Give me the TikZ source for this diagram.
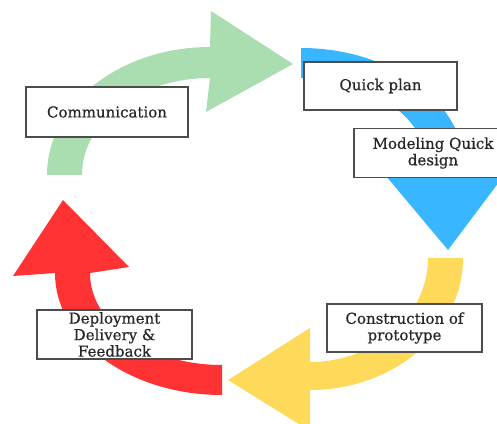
\documentclass[tikz,border=0pt]{standalone}
\usepackage{fontspec}
\setmainfont{DejaVu Serif}
\newfontfamily\phasefont{DejaVu Serif}[FakeBold=0.5]
\usetikzlibrary{shadows}
\definecolor{greenarc}{RGB}{170,222,176}
\definecolor{bluearc}{RGB}{56,182,255}
\definecolor{yellowarc}{RGB}{255,217,90}
\definecolor{redarc}{RGB}{255,51,51}
\tikzstyle{phase} = [rectangle, minimum width=155pt, minimum height=48pt, text centered, align=center, draw=black!70, line width=1.3pt, fill=white, text=black!85, drop shadow={opacity=0.4, shadow xshift=1pt, shadow yshift=-1pt}, font=\phasefont\fontsize{15}{16.5}\selectfont]

\begin{document}
\begin{tikzpicture}[x=1pt, y=1pt]
            \clip (0,0) rectangle (497,423);
            % the four bent arrows of the cycle
            \fill[greenarc] (47,248) arc[start angle=180, end angle=90, x radius=163, y radius=128] -- (211,412) -- (293,359) -- (206,311) -- (210,345) arc[start angle=90, end angle=180, x radius=128, y radius=97] -- cycle;
            \fill[bluearc] (301,375) arc[start angle=90, end angle=0, x radius=164, y radius=122] -- (508,253) -- (448,173) -- (381,253) -- (429,253) arc[start angle=0, end angle=90, x radius=128, y radius=92] -- cycle;
            \fill[yellowarc] (463,165) arc[start angle=0, end angle=-90, x radius=153, y radius=132] -- (310,-8) -- (228,43) -- (310,95) -- (310,61) arc[start angle=-90, end angle=0, x radius=118, y radius=104] -- cycle;
            \fill[redarc] (222,28) arc[start angle=270, end angle=180, x radius=167, y radius=122] -- (13,147) -- (63,223) -- (129,156) -- (90,150) arc[start angle=180, end angle=270, x radius=132, y radius=92] -- cycle;

            % the phases
            \node (comm) [phase, minimum width=162pt, minimum height=50pt] at (107,311) {Communication};
            \node (plan) [phase, minimum width=153pt] at (380.5,337) {Quick plan};
            \node (design) [phase, minimum width=158pt, minimum height=49pt] at (433,270) {Modeling Quick\\design};
            \node (build) [phase] at (404.5,95) {Construction of\\prototype};
            \node (deploy) [phase, minimum height=49pt, inner ysep=0pt] at (114.5,88.5) {Deployment\\Delivery \&\\Feedback};
        \end{tikzpicture}
\end{document}
